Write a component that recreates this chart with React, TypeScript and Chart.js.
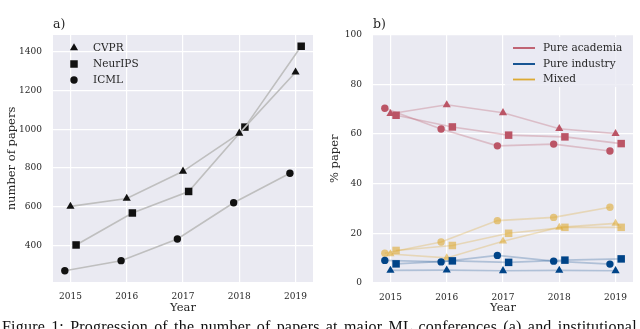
import React, { useEffect, useRef } from "react";
import { Chart, registerables } from "chart.js";

Chart.register(...registerables);

// ---------- data ----------
const years = [2015, 2016, 2017, 2018, 2019];
const conferences = ["CVPR", "NeurIPS", "ICML"];
const conferenceOffsets = [0, 0.1, -0.1];
const conferenceMarkers = ["triangle", "rect", "circle"];

const cvprPapers = [602, 643, 783, 979, 1294];
const neuripsPapers = [403, 568, 679, 1011, 1428];
const icmlPapers = [270, 322, 434, 621, 773];
const paperTicks = [400, 600, 800, 1000, 1200, 1400];

const categories = ["Pure academia", "Pure industry", "Mixed"];
const academiaCVPR = [68.1, 71.7, 68.5, 62.1, 60.1];
const academiaNeurIPS = [67.5, 62.8, 59.5, 58.8, 56.1];
const academiaICML = [70.3, 62.0, 55.2, 55.9, 53.1];
const industryCVPR = [5.1, 5.2, 4.9, 5.1, 4.9];
const industryNeurIPS = [7.7, 8.9, 8.3, 9.2, 9.7];
const industryICML = [9.1, 8.5, 11.1, 8.8, 7.6];
const mixedCVPR = [11.7, 10.1, 16.8, 22.4, 24.0];
const mixedNeurIPS = [13.1, 15.1, 20.0, 22.4, 22.4];
const mixedICML = [12.0, 16.5, 25.1, 26.4, 30.5];
const percentTicks = [0, 20, 40, 60, 80, 100];

const caption =
  "Figure 1: Progression of the number of papers at major ML conferences (a) and institutional";

// ---------- styles ----------
const FONT = "'DejaVu Serif', serif";
const TEXT = "#262626";
const BG = "#EAEAF2";
const catColors = ["#BB5566", "#004488", "#DDAA33"];
const catLineColors = [
  "rgba(187,85,102,0.3)",
  "rgba(0,68,136,0.25)",
  "rgba(221,170,51,0.3)",
];
const catPointColors = ["#BB5566", "#004488", "rgba(221,170,51,0.6)"];
const markerRadius: Record<string, number> = { triangle: 4.7, rect: 5.3, circle: 3.7 };

const toPoints = (vals: number[], off: number) =>
  vals.map((v, i) => ({ x: years[i] + off, y: v }));

function drawMarker(ctx: CanvasRenderingContext2D, style: string, x: number, y: number, color: string) {
  const r = markerRadius[style];
  ctx.save();
  ctx.fillStyle = color;
  ctx.beginPath();
  if (style === "circle") {
    ctx.arc(x, y, r, 0, Math.PI * 2);
  } else if (style === "rect") {
    const s = r * Math.SQRT1_2;
    ctx.rect(x - s, y - s, 2 * s, 2 * s);
  } else {
    for (let k = 0; k < 3; k++) {
      const a = (k * 2 * Math.PI) / 3;
      const px = x + Math.sin(a) * r;
      const py = y - Math.cos(a) * r;
      if (k === 0) ctx.moveTo(px, py);
      else ctx.lineTo(px, py);
    }
    ctx.closePath();
  }
  ctx.fill();
  ctx.restore();
}

const bgPlugin = {
  id: "plotBg",
  beforeDraw(chart: any) {
    const { ctx, chartArea: a } = chart;
    ctx.save();
    ctx.fillStyle = BG;
    ctx.fillRect(a.left, a.top, a.right - a.left, a.bottom - a.top);
    ctx.restore();
  },
};

function panelLabelPlugin(label: string) {
  return {
    id: "panelLabel",
    afterDraw(chart: any) {
      const { ctx, chartArea: a } = chart;
      ctx.save();
      ctx.font = `12.5px ${FONT}`;
      ctx.fillStyle = TEXT;
      ctx.textAlign = "left";
      ctx.textBaseline = "middle";
      ctx.fillText(label, a.left, 25);
      ctx.restore();
    },
  };
}

const leftLegendPlugin = {
  id: "leftLegend",
  afterDatasetsDraw(chart: any) {
    const { ctx } = chart;
    const rows = [48, 64, 80];
    conferences.forEach((c, i) => {
      drawMarker(ctx, conferenceMarkers[i], 74, rows[i], "#111111");
      ctx.save();
      ctx.font = `10.5px ${FONT}`;
      ctx.fillStyle = TEXT;
      ctx.textBaseline = "middle";
      ctx.fillText(c, 93, rows[i]);
      ctx.restore();
    });
  },
};

const rightLegendPlugin = {
  id: "rightLegend",
  afterDatasetsDraw(chart: any) {
    const { ctx } = chart;
    const x0 = 185, y0 = 37, w = 127, h = 50;
    ctx.save();
    ctx.fillStyle = "rgba(234,234,242,0.8)";
    ctx.beginPath();
    (ctx as any).roundRect(x0, y0, w, h, 3);
    ctx.fill();
    const rows = [48, 64, 79.5];
    categories.forEach((c, i) => {
      ctx.strokeStyle = catColors[i];
      ctx.lineWidth = 1.8;
      ctx.beginPath();
      ctx.moveTo(193, rows[i]);
      ctx.lineTo(215, rows[i]);
      ctx.stroke();
      ctx.font = `10.5px ${FONT}`;
      ctx.fillStyle = TEXT;
      ctx.textBaseline = "middle";
      ctx.fillText(c, 223, rows[i]);
    });
    ctx.restore();
  },
};

function baseScales(yMin: number, yMax: number, yTicks: number[], yTitle: string, yTitlePad: number, xHeight: number) {
  return {
    x: {
      type: "linear",
      min: 2014.69,
      max: 2019.31,
      afterBuildTicks: (s: any) => {
        s.ticks = years.map((v) => ({ value: v }));
      },
      afterFit: (s: any) => {
        s.height = xHeight;
      },
      grid: { color: "#ffffff", lineWidth: 1.2, drawTicks: false },
      border: { display: false },
      ticks: {
        callback: (v: any) => String(v),
        font: { family: FONT, size: 9 },
        color: TEXT,
        padding: 9,
        maxRotation: 0,
        autoSkip: false,
      },
      title: {
        display: true,
        text: "Year",
        font: { family: FONT, size: 11.5 },
        color: TEXT,
        padding: 14,
      },
    },
    y: {
      type: "linear",
      min: yMin,
      max: yMax,
      afterBuildTicks: (s: any) => {
        s.ticks = yTicks.map((v) => ({ value: v }));
      },
      afterFit: (s: any) => {
        s.width = 53;
      },
      grid: { color: "#ffffff", lineWidth: 1.2, drawTicks: false },
      border: { display: false },
      ticks: {
        callback: (v: any) => String(v),
        font: { family: FONT, size: 9 },
        color: TEXT,
        padding: 11,
      },
      title: {
        display: true,
        text: yTitle,
        font: { family: FONT, size: 11.5 },
        color: TEXT,
        padding: yTitlePad,
      },
    },
  };
}

function LeftChart() {
  const ref = useRef<HTMLCanvasElement>(null);
  useEffect(() => {
    const series = [cvprPapers, neuripsPapers, icmlPapers];
    const chart = new Chart(ref.current!, {
      type: "line",
      data: {
        datasets: series.map((vals, i) => ({
          label: conferences[i],
          data: toPoints(vals, conferenceOffsets[i]),
          borderColor: "#bfbfbf",
          borderWidth: 1.6,
          pointStyle: conferenceMarkers[i] as any,
          pointRadius: markerRadius[conferenceMarkers[i]],
          pointBackgroundColor: "#111111",
          pointBorderWidth: 0,
          tension: 0,
        })),
      },
      options: {
        responsive: false,
        animation: false,
        layout: { padding: { top: 35, right: 7, left: 0, bottom: 0 } },
        plugins: { legend: { display: false }, tooltip: { enabled: false } },
        scales: baseScales(212, 1486, paperTicks, "number of papers", 5, 47) as any,
      },
      plugins: [bgPlugin, panelLabelPlugin("a)"), leftLegendPlugin],
    });
    return () => chart.destroy();
  }, []);
  return (
    <canvas
      ref={ref}
      width={320}
      height={329}
      style={{ position: "absolute", left: 0, top: 0, width: 320, height: 329 }}
    />
  );
}

function RightChart() {
  const ref = useRef<HTMLCanvasElement>(null);
  useEffect(() => {
    const groups = [
      [academiaCVPR, academiaNeurIPS, academiaICML],
      [industryCVPR, industryNeurIPS, industryICML],
      [mixedCVPR, mixedNeurIPS, mixedICML],
    ];
    const datasets: any[] = [];
    groups.forEach((g, ci) => {
      g.forEach((vals, k) => {
        datasets.push({
          label: `${categories[ci]} ${conferences[k]}`,
          data: toPoints(vals, conferenceOffsets[k]),
          borderColor: catLineColors[ci],
          borderWidth: 1.6,
          pointStyle: conferenceMarkers[k],
          pointRadius: markerRadius[conferenceMarkers[k]],
          pointBackgroundColor: catPointColors[ci],
          pointBorderWidth: 0,
          tension: 0,
          clip: false,
        });
      });
    });
    const chart = new Chart(ref.current!, {
      type: "line",
      data: { datasets },
      options: {
        responsive: false,
        animation: false,
        layout: { padding: { top: 34.5, right: 7, left: 0, bottom: 0 } },
        plugins: { legend: { display: false }, tooltip: { enabled: false } },
        scales: baseScales(0, 100, percentTicks, "% paper", 8, 46) as any,
      },
      plugins: [bgPlugin, panelLabelPlugin("b)"), rightLegendPlugin],
    });
    return () => chart.destroy();
  }, []);
  return (
    <canvas
      ref={ref}
      width={320}
      height={329}
      style={{ position: "absolute", left: 320, top: 0, width: 320, height: 329 }}
    />
  );
}

export default function App() {
  return (
    <div
      style={{
        position: "fixed",
        left: 0,
        top: 0,
        width: 640,
        height: 329,
        overflow: "hidden",
        background: "#ffffff",
      }}
    >
      <LeftChart />
      <RightChart />
      <div
        style={{
          position: "absolute",
          left: 2,
          top: 318,
          whiteSpace: "nowrap",
          fontFamily: "'Liberation Serif', serif",
          fontSize: 16,
          lineHeight: "17px",
          color: "#111111",
          letterSpacing: "0.2px",
          wordSpacing: "2px",
        }}
      >
        {caption}
      </div>
    </div>
  );
}
